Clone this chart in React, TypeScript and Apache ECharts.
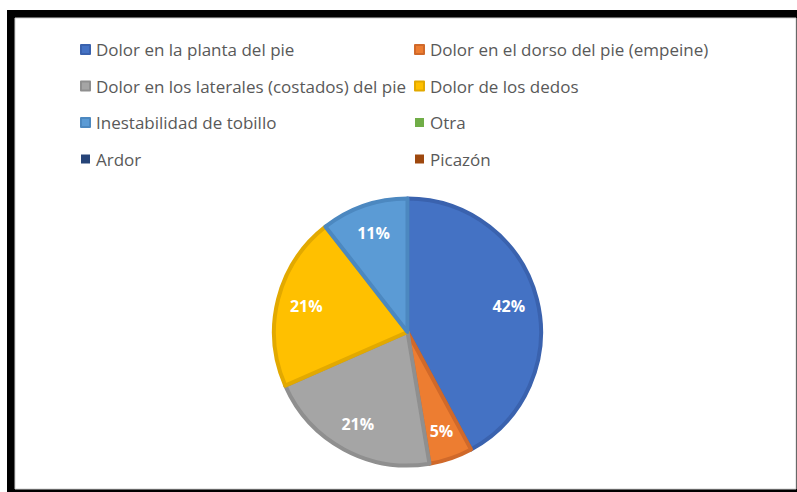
import React, { useEffect, useRef } from "react";
import * as echarts from "echarts";

const categories = [
  "Dolor en la planta del pie",
  "Dolor en el dorso del pie (empeine)",
  "Dolor en los laterales (costados) del pie",
  "Dolor de los dedos",
  "Inestabilidad de tobillo",
  "Otra",
  "Ardor",
  "Picazón",
];
const values = [8, 1, 4, 4, 2, 0, 0, 0];
const colors = ["#4472C4", "#ED7D31", "#A5A5A5", "#FFC000", "#5B9BD5", "#70AD47", "#264478", "#9E480E"];
const borderColors = ["#3A62AE", "#D0692A", "#8F8F8F", "#E2A900", "#4C88C0", "#5F9A3A", "#1E3A66", "#853B0A"];
const legendLeft = [categories[0], categories[2], categories[4], categories[6]];
const legendRight = [categories[1], categories[3], categories[5], categories[7]];

export default function App() {
  const ref = useRef<HTMLDivElement>(null);
  useEffect(() => {
    if (!ref.current) return;
    const chart = echarts.init(ref.current, undefined, { renderer: "svg" });
    const center = [407.5, 332];
    const R = 133.5;
    const data = categories.map((name, i) => ({
      name,
      value: values[i],
      itemStyle: {
        color: colors[i],
        borderColor: borderColors[i],
        borderWidth: values[i] > 0 ? 4 : 0,
      },
    }));
    const legendCommon = {
      orient: "vertical" as const,
      itemWidth: 9,
      itemHeight: 9,
      itemGap: 16.5,
      icon: "rect",
      padding: 0,
      selectedMode: false,
      textStyle: {
        color: "#595959",
        fontFamily: "Open Sans",
        fontSize: 17,
        lineHeight: 20,
        padding: [0, 0, 0, 1],
      },
    };
    chart.setOption({
      animation: false,
      backgroundColor: "#ffffff",
      graphic: [
        { type: "rect", z: -10, shape: { x: 7, y: 10, width: 790, height: 482 }, style: { fill: "#000000" } },
        {
          type: "rect",
          z: -9,
          shape: { x: 15, y: 18, width: 781, height: 471 },
          style: { fill: "#ffffff", stroke: "#d0d0d0", lineWidth: 1 },
        },
      ],
      legend: [
        { ...legendCommon, left: 80, top: 39.5, data: legendLeft },
        { ...legendCommon, left: 414, top: 39.5, data: legendRight },
      ],
      series: [
        {
          type: "pie",
          center,
          radius: R,
          startAngle: 90,
          clockwise: true,
          label: { show: false },
          labelLine: { show: false },
          emphasis: { disabled: true },
          data,
        },
        {
          type: "pie",
          center,
          radius: [R * 0.56, R * 0.96],
          startAngle: 90,
          clockwise: true,
          silent: true,
          legendHoverLink: false,
          itemStyle: { color: "transparent", borderWidth: 0 },
          label: {
            show: true,
            position: "inside",
            color: "#ffffff",
            fontWeight: "bold",
            fontFamily: "Open Sans",
            fontSize: 16,
            formatter: (p: any) => (p.value > 0 ? Math.round(p.percent) + "%" : ""),
          },
          labelLine: { show: false },
          emphasis: { disabled: true },
          data: categories.map((name, i) => ({ name: name + " ", value: values[i] })),
        },
      ],
    });
    return () => chart.dispose();
  }, []);
  return (
    <div
      ref={ref}
      style={{ position: "fixed", left: 0, top: 0, width: 797, height: 492 }}
    />
  );
}
